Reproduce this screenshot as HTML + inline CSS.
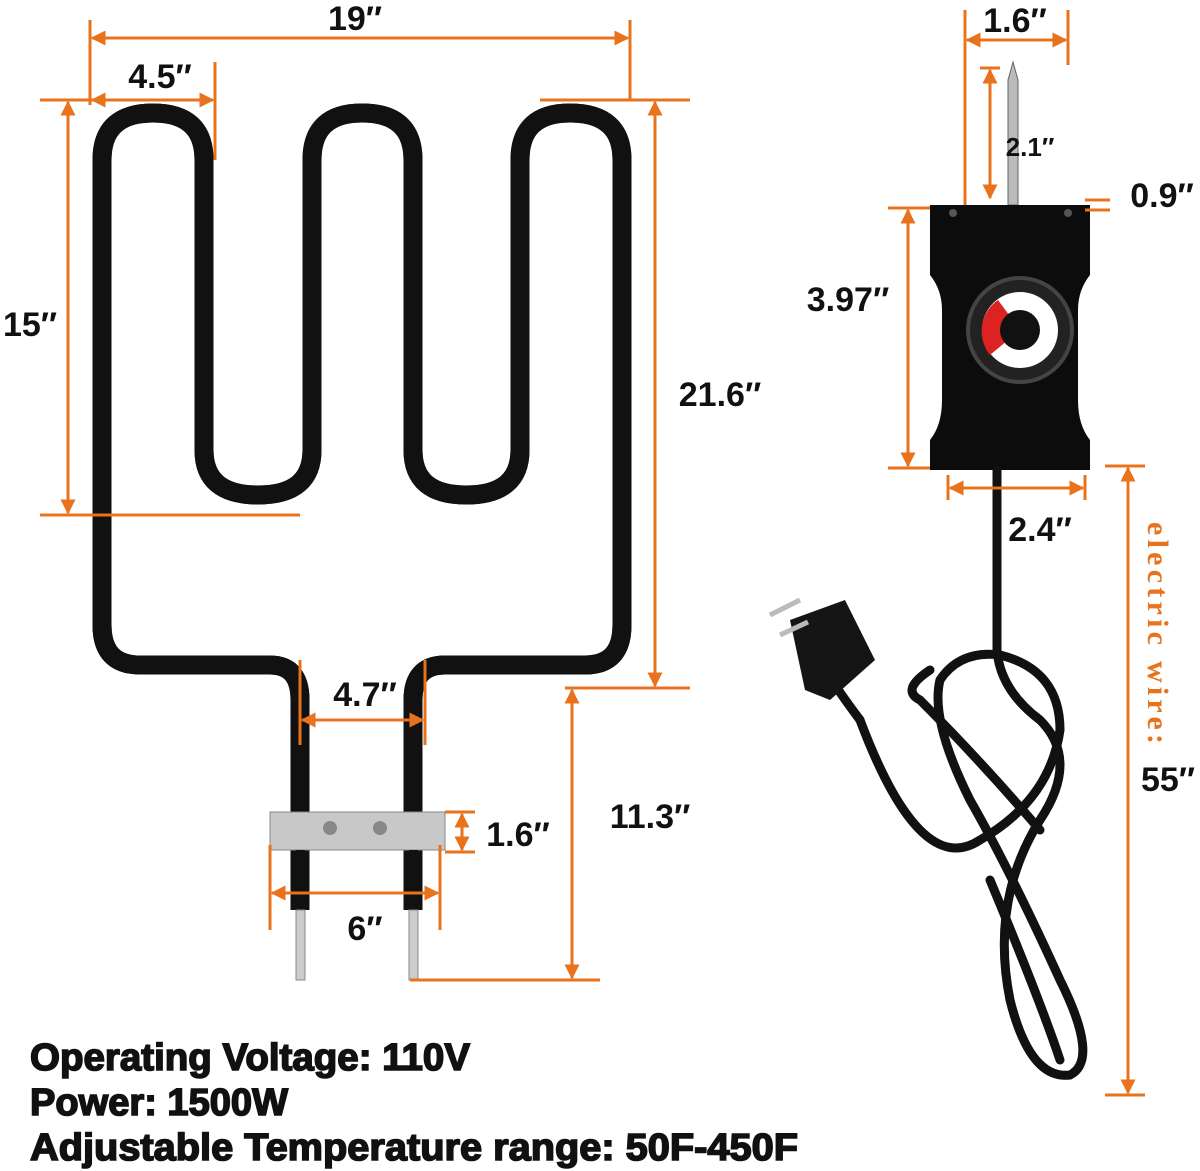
<!DOCTYPE html>
<html><head><meta charset="utf-8"><style>
html,body{margin:0;padding:0;background:#fff;}
svg{display:block;}
.d{font-family:"Liberation Sans",sans-serif;font-weight:bold;font-size:34px;fill:#111;text-anchor:middle;}
.o{stroke:#e8731c;stroke-width:3;fill:none;}
.b{font-family:"Liberation Sans",sans-serif;font-weight:bold;font-size:38px;fill:#111;stroke:#111;stroke-width:1.6;}
</style></head><body>
<svg width="1200" height="1171" viewBox="0 0 1200 1171" xmlns="http://www.w3.org/2000/svg">
<defs>
<marker id="a" viewBox="0 0 10 10" refX="9" refY="5" markerWidth="5" markerHeight="5" orient="auto-start-reverse"><path d="M0,0L10,5L0,10z" fill="#e8731c"/></marker>
</defs>
<g fill="none" stroke-linejoin="round">
<path id="el" d="M300,910 L300,700 Q300,665 270,665 L140,665 Q102,665 102,625 L102,160 Q102,113 153,113 Q204,113 204,160 L204,450 Q204,495 258,495 Q312,495 312,450 L312,160 Q312,113 362,113 Q413,113 413,160 L413,450 Q413,495 466,495 Q520,495 520,450 L520,160 Q520,113 570,113 Q622,113 622,160 L622,625 Q622,665 585,665 L445,665 Q413,665 413,700 L413,910" stroke="#111" stroke-width="19"/>
<use href="#el" stroke="#333" stroke-width="7"/>
</g>
<rect x="270" y="812" width="175" height="38" fill="#c8c8c8" stroke="#888"/>
<circle cx="330" cy="828" r="7" fill="#888"/><circle cx="380" cy="828" r="7" fill="#888"/>
<rect x="296" y="850" width="9" height="60" fill="#111"/><rect x="409" y="850" width="9" height="60" fill="#111"/>
<rect x="296" y="910" width="9" height="70" fill="#ccc" stroke="#888"/><rect x="409" y="910" width="9" height="70" fill="#ccc" stroke="#888"/>
<g class="o">
<path d="M90,20V105M630,20V100"/><path d="M92,38H628" marker-start="url(#a)" marker-end="url(#a)"/>
<path d="M215,62V160"/><path d="M92,100H213" marker-start="url(#a)" marker-end="url(#a)"/>
<path d="M40,100H100M40,515H300"/><path d="M68,102V513" marker-start="url(#a)" marker-end="url(#a)"/>
<path d="M540,100H690M565,688H690"/><path d="M655,102V686" marker-start="url(#a)" marker-end="url(#a)"/>
<path d="M300,660V745M425,660V745"/><path d="M302,720H423" marker-start="url(#a)" marker-end="url(#a)"/>
<path d="M410,980H600"/><path d="M572,690V978" marker-start="url(#a)" marker-end="url(#a)"/>
<path d="M445,812H475M445,852H475"/><path d="M462,814V850" marker-start="url(#a)" marker-end="url(#a)"/>
<path d="M270,845V930M440,845V930"/><path d="M272,893H438" marker-start="url(#a)" marker-end="url(#a)"/>
</g>
<text class="d" x="355" y="30">19″</text>
<text class="d" x="160" y="88">4.5″</text>
<text class="d" x="30" y="336">15″</text>
<text class="d" x="720" y="406">21.6″</text>
<text class="d" x="365" y="706">4.7″</text>
<text class="d" x="650" y="828">11.3″</text>
<text class="d" x="518" y="846">1.6″</text>
<text class="d" x="365" y="940">6″</text>
<path d="M1008,205V80L1013,62L1018,80V205z" fill="#bbb" stroke="#666"/>
<path d="M930,205H1090V275Q1078,290 1078,310V400Q1078,425 1090,440V470H930V440Q942,425 942,400V310Q942,290 930,275z" fill="#0c0c0c"/>
<circle cx="953" cy="213" r="4" fill="#555"/><circle cx="1068" cy="213" r="4" fill="#555"/>
<circle cx="1020" cy="330" r="52" fill="#222" stroke="#444" stroke-width="4"/>
<circle cx="1020" cy="330" r="38" fill="#fff"/>
<path d="M1020,330L990,355A38,38 0 0 1 998,300z" fill="#d22"/>
<circle cx="1020" cy="330" r="20" fill="#111"/>
<g fill="none" stroke="#111" stroke-width="9" stroke-linecap="round">
<path d="M997,470V650Q1000,690 1040,720Q1080,760 1040,820Q990,900 1010,1000Q1030,1080 1070,1075Q1100,1060 1060,980Q1010,870 970,800Q930,720 940,680Q960,650 1000,655"/>
<path d="M1000,655Q1060,670 1060,730Q1050,800 980,840Q920,880 860,720"/>
<path d="M860,720Q830,680 820,660"/>
<path d="M1040,830Q980,760 920,700Q900,690 930,670"/>
<path d="M990,880Q1040,1000 1060,1060"/>
</g>
<path d="M790,620L845,600L875,660L830,700L805,690z" fill="#151515"/>
<path d="M770,615L800,600M780,635L808,622" stroke="#bbb" stroke-width="5"/>
<g class="o">
<path d="M965,10V205M1068,10V65"/><path d="M967,40H1066" marker-start="url(#a)" marker-end="url(#a)"/>
<path d="M980,68H1000"/><path d="M990,70V198" marker-start="url(#a)" marker-end="url(#a)"/>
<path d="M1085,200H1110M1085,210H1110"/>
<path d="M888,208H930M888,468H930"/><path d="M908,210V466" marker-start="url(#a)" marker-end="url(#a)"/>
<path d="M948,475V500M1085,475V500"/><path d="M950,488H1083" marker-start="url(#a)" marker-end="url(#a)"/>
<path d="M1105,466H1145M1105,1095H1145"/><path d="M1128,468V1093" marker-start="url(#a)" marker-end="url(#a)"/>
</g>
<text class="d" x="1015" y="32">1.6″</text>
<text class="d" x="1030" y="156" style="font-size:26px">2.1″</text>
<text class="d" x="1162" y="207">0.9″</text>
<text class="d" x="848" y="311">3.97″</text>
<text class="d" x="1040" y="541">2.4″</text>
<text class="d" x="1168" y="791">55″</text>
<text x="1148" y="522" transform="rotate(90 1148 522)" style="font-family:'Liberation Serif',serif;font-weight:bold;font-size:30px;fill:#e8731c" textLength="222">electric wire:</text>
<text class="b" x="30" y="1070" textLength="440" lengthAdjust="spacingAndGlyphs">Operating Voltage: 110V</text>
<text class="b" x="30" y="1115" textLength="258" lengthAdjust="spacingAndGlyphs">Power: 1500W</text>
<text class="b" x="30" y="1160" textLength="768" lengthAdjust="spacingAndGlyphs">Adjustable Temperature range: 50F-450F</text>
</svg>
</body></html>
